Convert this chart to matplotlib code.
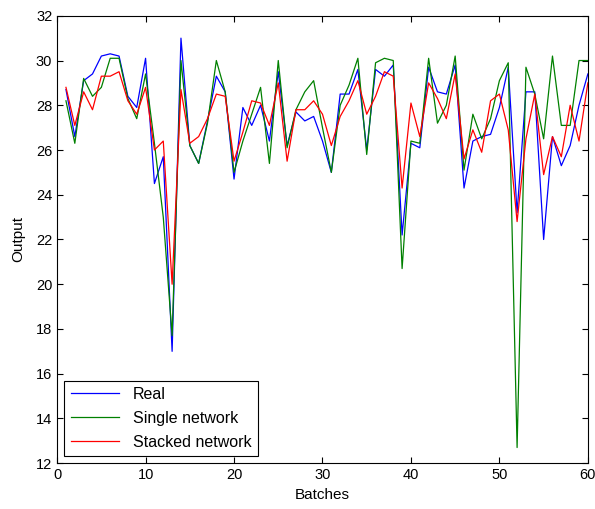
"""
Real output vs. single and stacked network predictions per batch.
"""
import matplotlib
matplotlib.use("Agg")
import matplotlib.pyplot as plt

batches = list(range(1, 61))

real = [28.7, 26.6, 29.1, 29.4, 30.2, 30.3, 30.2, 28.4, 27.9, 30.1,
        24.5, 25.7, 17.0, 31.0, 26.2, 25.4, 27.3, 29.3, 28.6, 24.7,
        27.9, 27.1, 28.0, 26.4, 29.5, 26.2, 27.7, 27.3, 27.5, 26.4,
        25.0, 28.5, 28.5, 29.6, 26.0, 29.6, 29.3, 29.8, 22.2, 26.3,
        26.1, 29.7, 28.6, 28.5, 29.8, 24.3, 26.4, 26.6, 26.7, 27.9,
        29.7, 23.2, 28.6, 28.6, 22.0, 26.6, 25.3, 26.2, 28.0, 29.4]

single = [28.2, 26.3, 29.2, 28.4, 28.8, 30.1, 30.1, 28.3, 27.4, 29.4,
          26.3, 23.0, 17.7, 30.0, 26.2, 25.4, 27.2, 30.0, 28.6, 25.0,
          26.4, 27.6, 28.8, 25.4, 30.0, 26.1, 27.8, 28.6, 29.1, 27.0,
          25.0, 28.0, 28.9, 30.1, 25.8, 29.9, 30.1, 30.0, 20.7, 26.4,
          26.3, 30.1, 27.2, 28.0, 30.2, 25.1, 27.6, 26.5, 27.4, 29.1,
          29.9, 12.7, 29.7, 28.5, 26.5, 30.2, 27.1, 27.1, 30.0, 30.0]

stacked = [28.8, 27.1, 28.6, 27.8, 29.3, 29.3, 29.5, 28.2, 27.6, 28.8,
           26.0, 26.4, 20.0, 28.7, 26.3, 26.6, 27.4, 28.5, 28.4, 25.5,
           26.8, 28.2, 28.1, 27.1, 29.0, 25.5, 27.8, 27.8, 28.2, 27.6,
           26.2, 27.5, 28.2, 29.1, 27.6, 28.4, 29.5, 29.3, 24.3, 28.1,
           26.6, 29.0, 28.3, 27.4, 29.4, 25.6, 26.9, 25.9, 28.2, 28.5,
           26.9, 22.8, 26.5, 28.5, 24.9, 26.6, 25.7, 28.0, 26.4, 29.0]

x_ticks = list(range(0, 61, 10))
y_ticks = list(range(12, 33, 2))

plt.rcParams["font.family"] = ["Liberation Sans", "DejaVu Sans"]

fig = plt.figure(figsize=(5.95, 5.09), dpi=100)
ax = fig.add_axes([0.096, 0.090, 0.892, 0.879])

ax.plot(batches, real, color=(0, 0, 1), lw=0.9, label="Real")
ax.plot(batches, single, color=(0, 0.5, 0), lw=0.9, label="Single network")
ax.plot(batches, stacked, color=(1, 0, 0), lw=0.9, label="Stacked network")

ax.set_xlim(0, 60)
ax.set_ylim(12, 32)
ax.set_xticks(x_ticks)
ax.set_yticks(y_ticks)
ax.tick_params(direction="in", top=True, right=True, labelsize=10.5, length=4)
for s in ax.spines.values():
    s.set_linewidth(0.8)

ax.set_xlabel("Batches", fontsize=11, labelpad=4)
ax.set_ylabel("Output", fontsize=11, labelpad=8)

leg = ax.legend(loc="lower left", fontsize=11.5, fancybox=False,
                edgecolor="black", framealpha=1, handlelength=3.0,
                handletextpad=0.9, labelspacing=0.55, borderaxespad=0.45)
leg.get_frame().set_linewidth(0.8)

fig.savefig("out.png", dpi=100)
